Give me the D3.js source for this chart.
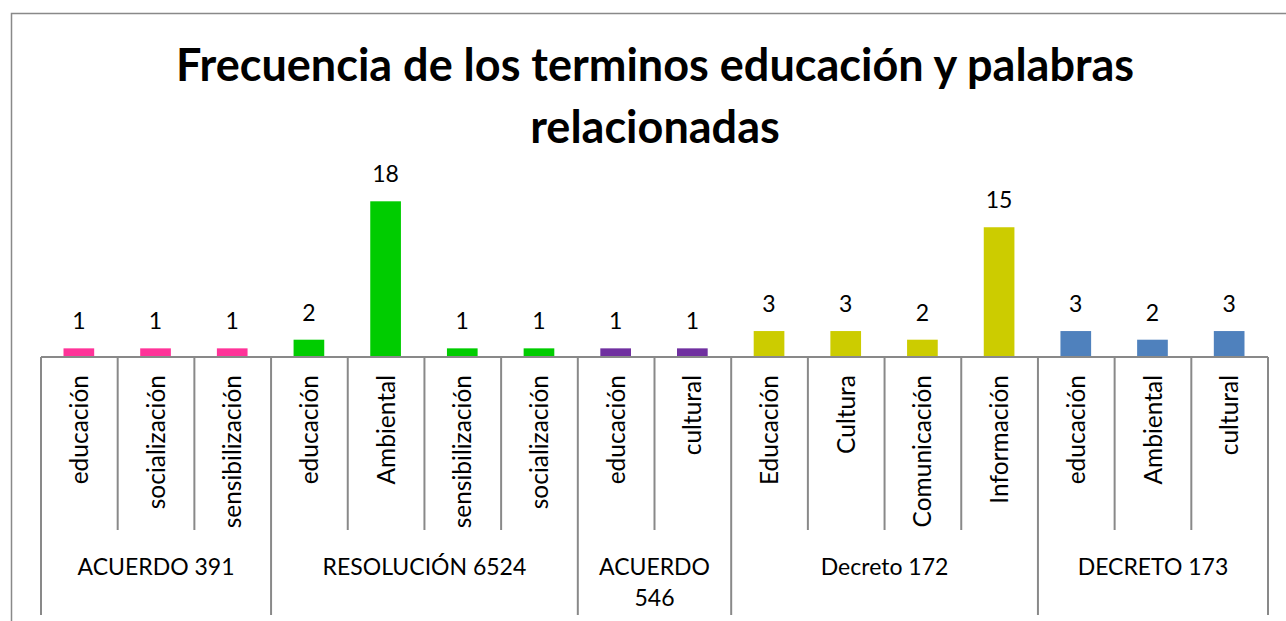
<!DOCTYPE html>
<html>
<head>
<meta charset="utf-8">
<script src="https://cdn.jsdelivr.net/npm/d3@7"></script>
<style>
  html, body { margin: 0; padding: 0; background: #fff; }
  svg { display: block; font-family: Lato, "Open Sans", sans-serif; }
</style>
</head>
<body>
<div id="chart"></div>
<script>
const groups = ["ACUERDO 391", "RESOLUCIÓN 6524", "ACUERDO 546", "Decreto 172", "DECRETO 173"];
const groupColors = ["#FF3399", "#00CC00", "#7030A0", "#CCCC00", "#4F81BD"];
const terms = ["educación", "socialización", "sensibilización",
  "educación", "Ambiental", "sensibilización", "socialización",
  "educación", "cultural",
  "Educación", "Cultura", "Comunicación", "Información",
  "educación", "Ambiental", "cultural"];
const termGroup = [0, 0, 0, 1, 1, 1, 1, 2, 2, 3, 3, 3, 3, 4, 4, 4];
const values = [1, 1, 1, 2, 18, 1, 1, 1, 1, 3, 3, 2, 15, 3, 2, 3];
const titleLines = ["Frecuencia de los terminos educación y palabras", "relacionadas"];

const width = 1286, height = 621;
const axisY = 357, innerTickEnd = 530, groupTickEnd = 615;
const gray = "#898989";

const svg = d3.select("#chart").append("svg")
  .attr("width", width)
  .attr("height", height);

// chart frame (cut off at right and bottom)
svg.append("rect")
  .attr("x", 11.5).attr("y", 13.5)
  .attr("width", 1300).attr("height", 700)
  .attr("fill", "none")
  .attr("stroke", gray)
  .attr("stroke-width", 1.5);

titleLines.forEach((line, i) => {
  svg.append("text")
    .attr("x", 655)
    .attr("y", 81 + i * 62)
    .attr("text-anchor", "middle")
    .style("font-size", "45px")
    .style("font-weight", "bold")
    .style("fill", "#000")
    .text(line);
});

const x = d3.scaleBand()
  .domain(d3.range(terms.length))
  .range([41, 1268])
  .paddingInner(0)
  .paddingOuter(0);

const y = d3.scaleLinear()
  .domain([0, 20])
  .range([axisY, 184]);

const barW = x.bandwidth() * 0.4;

svg.selectAll(".bar")
  .data(values)
  .enter()
  .append("rect")
  .attr("class", "bar")
  .attr("x", (d, i) => x(i) + (x.bandwidth() - barW) / 2 - 0.5)
  .attr("y", d => y(d))
  .attr("width", barW)
  .attr("height", d => axisY - y(d))
  .attr("fill", (d, i) => groupColors[termGroup[i]]);

svg.selectAll(".val")
  .data(values)
  .enter()
  .append("text")
  .attr("class", "val")
  .attr("x", (d, i) => x(i) + x.bandwidth() / 2 - 0.5)
  .attr("y", d => y(d) - 19)
  .attr("text-anchor", "middle")
  .style("font-size", "23px")
  .style("fill", "#000")
  .text(d => d);

// axis line
svg.append("line")
  .attr("x1", 41).attr("x2", 1268)
  .attr("y1", axisY).attr("y2", axisY)
  .attr("stroke", gray)
  .attr("stroke-width", 2);

// tick lines: long ones between groups, short ones inside a group
const boundaries = d3.range(terms.length + 1);
boundaries.forEach(b => {
  const isGroupEdge = b === 0 || b === terms.length || termGroup[b] !== termGroup[b - 1];
  const xx = b === terms.length ? x.range()[1] : x(b);
  svg.append("line")
    .attr("x1", xx).attr("x2", xx)
    .attr("y1", axisY).attr("y2", isGroupEdge ? groupTickEnd : innerTickEnd)
    .attr("stroke", gray)
    .attr("stroke-width", 2);
});

// term labels, rotated
svg.selectAll(".term")
  .data(terms)
  .enter()
  .append("text")
  .attr("class", "term")
  .attr("transform", (d, i) => `translate(${x(i) + x.bandwidth() / 2}, 375) rotate(-90)`)
  .attr("text-anchor", "end")
  .attr("dy", "0.35em")
  .style("font-size", "24.5px")
  .style("fill", "#000")
  .text(d => d);

// group labels
groups.forEach((g, gi) => {
  const idx = termGroup.map((t, i) => t === gi ? i : -1).filter(i => i >= 0);
  const x0 = x(idx[0]);
  const x1 = x(idx[idx.length - 1]) + x.bandwidth();
  const cx = (x0 + x1) / 2;
  const t = svg.append("text")
    .attr("x", cx)
    .attr("y", 575)
    .attr("text-anchor", "middle")
    .style("font-size", "23px")
    .style("fill", "#000")
    .text(g);
  if (t.node().getComputedTextLength() > x1 - x0 - 8) {
    t.text(null);
    g.split(" ").forEach((w, k) => {
      t.append("tspan")
        .attr("x", cx)
        .attr("dy", k === 0 ? 0 : 31)
        .text(w);
    });
  }
});
</script>
</body>
</html>
